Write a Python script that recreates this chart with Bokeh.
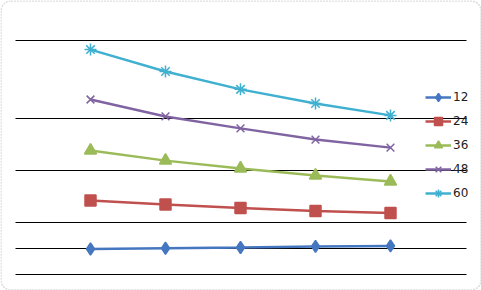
from bokeh.plotting import figure
from bokeh.models import Range1d, BoxAnnotation, Legend, LegendItem
from bokeh.embed import file_html
from bokeh.resources import INLINE

categories = [1, 2, 3, 4, 5]
series_names = ["12", "24", "36", "48", "60"]
s12 = [0.98, 1.01, 1.04, 1.08, 1.10]
s24 = [2.85, 2.69, 2.56, 2.44, 2.37]
s36 = [4.77, 4.38, 4.08, 3.81, 3.58]
s48 = [6.73, 6.08, 5.62, 5.19, 4.88]
s60 = [8.65, 7.81, 7.12, 6.58, 6.12]
gridlines = [0, 1, 2, 4, 6, 9]

colors = ["#4577C0", "#C0504D", "#9BBB59", "#8064A2", "#40B0D0"]
markers = ["diamond", "square", "triangle", "x", "asterisk"]
sizes = [12, 11, 12, 11, 12]

p = figure(width=481, height=290, output_backend="svg", toolbar_location=None,
           x_range=Range1d(-0.2, 6.2133), y_range=Range1d(-0.615, 10.538),
           x_axis_location=None, y_axis_location=None, min_border=0)
p.xgrid.visible = False
p.ygrid.visible = False
p.outline_line_color = None
p.background_fill_color = "white"
p.border_fill_color = "white"

p.segment(x0=[0] * len(gridlines), x1=[6.013] * len(gridlines),
          y0=gridlines, y1=gridlines, line_color="black", line_width=1.2)

items = []
for name, ys, c, m, s in zip(series_names, [s12, s24, s36, s48, s60], colors, markers, sizes):
    r1 = p.line(categories, ys, line_color=c, line_width=2.5)
    r2 = p.scatter(categories, ys, marker=m, size=s, fill_color=c, line_color=c, line_width=1.5)
    items.append(LegendItem(label=name, renderers=[r1, r2]))

legend = Legend(items=items, location=(425, 87), orientation="vertical",
                background_fill_alpha=0, border_line_color=None,
                glyph_width=26, glyph_height=20, label_height=20, spacing=4,
                padding=0, margin=0, label_standoff=2,
                label_text_font="DejaVu Sans", label_text_font_size="12px",
                label_text_color="#222222")
p.add_layout(legend, "center")

box = BoxAnnotation(left=-0.193, right=6.2066, bottom=-0.596, top=10.52,
                    fill_alpha=0, line_color="#8c8c8c", line_width=1.5,
                    line_dash="2 1", border_radius=10)
p.add_layout(box)

open("out.html", "w").write(file_html(p, INLINE))
